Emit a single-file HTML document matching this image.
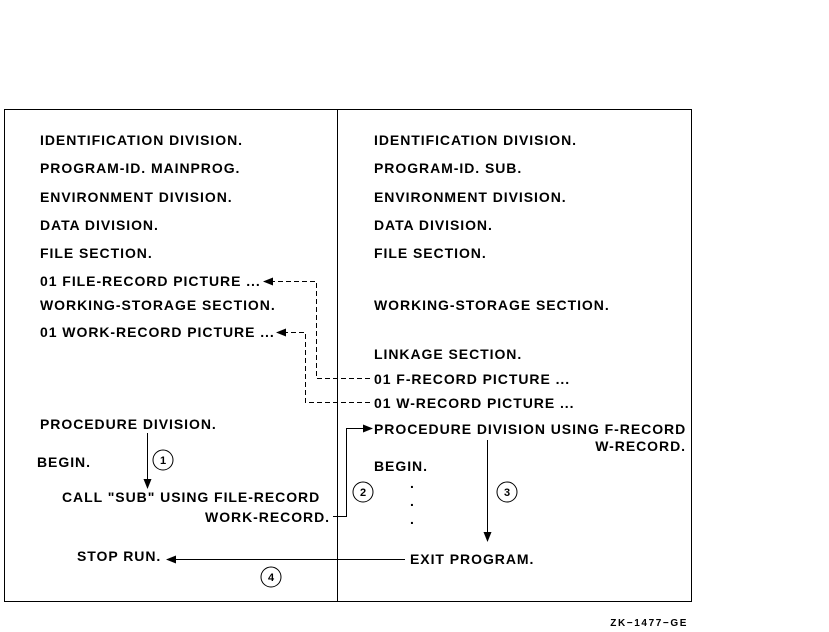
<!DOCTYPE html>
<html><head><style>
html,body{margin:0;padding:0;background:#fff;}
svg{display:block}
text{font-family:"Liberation Sans",Arial,sans-serif;font-size:14px;font-weight:bold;fill:#000;letter-spacing:0.95px}
</style></head><body>
<svg width="829" height="632" viewBox="0 0 829 632" xmlns="http://www.w3.org/2000/svg">
<defs>
<marker id="ah" markerWidth="10" markerHeight="8" refX="9" refY="4" orient="auto" markerUnits="userSpaceOnUse">
<path d="M0,0 L10,4 L0,8 z" fill="#000"/></marker>
</defs>
<rect x="4.5" y="109.5" width="687" height="492" fill="none" stroke="#000" stroke-width="1"/>
<line x1="337.5" y1="109" x2="337.5" y2="601" stroke="#000"/>
<g>
<text x="40" y="145">IDENTIFICATION DIVISION.</text>
<text x="40" y="173">PROGRAM-ID.  MAINPROG.</text>
<text x="40" y="202">ENVIRONMENT DIVISION.</text>
<text x="40" y="230">DATA DIVISION.</text>
<text x="40" y="258">FILE SECTION.</text>
<text x="40" y="286">01 FILE-RECORD PICTURE ...</text>
<text x="40" y="310">WORKING-STORAGE SECTION.</text>
<text x="40" y="337">01 WORK-RECORD PICTURE ...</text>
<text x="40" y="429">PROCEDURE DIVISION.</text>
<text x="37" y="467">BEGIN.</text>
<text x="62" y="502">CALL "SUB" USING FILE-RECORD</text>
<text x="330" y="522" text-anchor="end">WORK-RECORD.</text>
<text x="77" y="561">STOP RUN.</text>

<text x="374" y="145">IDENTIFICATION DIVISION.</text>
<text x="374" y="173">PROGRAM-ID.  SUB.</text>
<text x="374" y="202">ENVIRONMENT DIVISION.</text>
<text x="374" y="230">DATA DIVISION.</text>
<text x="374" y="258">FILE SECTION.</text>
<text x="374" y="310">WORKING-STORAGE SECTION.</text>
<text x="374" y="359">LINKAGE SECTION.</text>
<text x="374" y="384">01 F-RECORD PICTURE ...</text>
<text x="374" y="408">01 W-RECORD PICTURE ...</text>
<text x="374" y="434">PROCEDURE DIVISION USING F-RECORD</text>
<text x="686" y="451" text-anchor="end">W-RECORD.</text>
<text x="374" y="471">BEGIN.</text>
<text x="410" y="488">.</text>
<text x="410" y="506">.</text>
<text x="410" y="524">.</text>
<text x="410" y="564">EXIT PROGRAM.</text>
</g>
<g fill="none" stroke="#000" stroke-dasharray="5,3">
<polyline points="370,378.5 316.5,378.5 316.5,281.5 264,281.5" marker-end="url(#ah)"/>
<polyline points="370,402.5 305.5,402.5 305.5,332.5 277,332.5" marker-end="url(#ah)"/>
</g>
<g fill="none" stroke="#000">
<polyline points="147.5,433 147.5,488" marker-end="url(#ah)"/>
<polyline points="333,516.5 346.5,516.5 346.5,428.5 372,428.5" marker-end="url(#ah)"/>
<polyline points="487.5,440 487.5,541" marker-end="url(#ah)"/>
<polyline points="405,559.5 167,559.5" marker-end="url(#ah)"/>
<circle cx="163" cy="460" r="10"/>
<circle cx="363" cy="492" r="10"/>
<circle cx="507" cy="492" r="10"/>
<circle cx="271" cy="577" r="10"/>
</g>
<text x="163" y="464" text-anchor="middle" style="font-size:11px;letter-spacing:0">1</text>
<text x="363" y="496" text-anchor="middle" style="font-size:11px;letter-spacing:0">2</text>
<text x="507" y="496" text-anchor="middle" style="font-size:11px;letter-spacing:0">3</text>
<text x="271" y="581" text-anchor="middle" style="font-size:11px;letter-spacing:0">4</text>
<text x="688" y="626" text-anchor="end" style="font-size:10px;letter-spacing:1.6px">ZK−1477−GE</text>
</svg>
</body></html>
